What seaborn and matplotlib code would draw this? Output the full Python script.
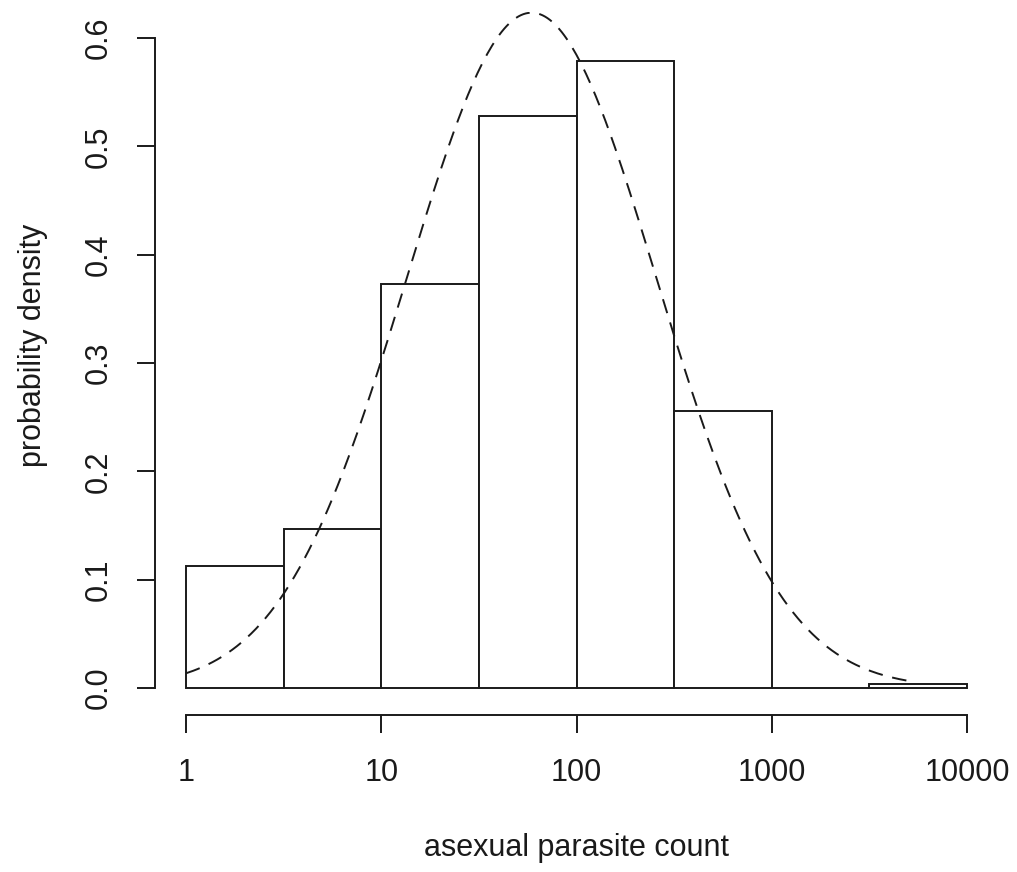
"""Histogram of asexual parasite counts (log10 bins) with fitted normal density."""

import matplotlib
matplotlib.use("Agg")
import matplotlib.pyplot as plt
import numpy as np
import seaborn as sns

# bin edges in log10(count) and density per bin
bin_edges = [0.0, 0.5, 1.0, 1.5, 2.0, 2.5, 3.0, 3.5, 4.0]
densities = [0.113, 0.147, 0.373, 0.528, 0.579, 0.256, 0.0, 0.004]

# fitted normal on log10 scale
fit_mean = 1.77
fit_sd = 0.64
curve_from, curve_to = 0.0, 3.69

x_ticks = [0, 1, 2, 3, 4]
x_tick_labels = ["1", "10", "100", "1000", "10000"]
y_ticks = [0.0, 0.1, 0.2, 0.3, 0.4, 0.5, 0.6]
y_tick_labels = ["0.0", "0.1", "0.2", "0.3", "0.4", "0.5", "0.6"]


def main() -> None:
    sns.set_style("white")
    plt.rcParams["font.family"] = ["Liberation Sans", "DejaVu Sans"]

    fig = plt.figure(figsize=(10.17, 8.72), dpi=100)
    ax = fig.add_axes([155 / 1017, 1 - 715 / 872, (998 - 155) / 1017, (715 - 12) / 872])

    mids = [(a + b) / 2 for a, b in zip(bin_edges[:-1], bin_edges[1:])]
    sns.histplot(x=mids, weights=densities, bins=bin_edges, stat="count",
                 color="white", edgecolor="#1a1a1a", linewidth=1.4, alpha=1,
                 ax=ax)

    xs = np.linspace(curve_from, curve_to, 300)
    ys = np.exp(-0.5 * ((xs - fit_mean) / fit_sd) ** 2) / (fit_sd * np.sqrt(2 * np.pi))
    sns.lineplot(x=xs, y=ys, color="#1a1a1a", linewidth=1.4,
                 linestyle=(0, (7.5, 5)), ax=ax)

    ax.set_xlim(-0.159, 4.159)
    ax.set_ylim(-0.0249, 0.624)

    for side in ["top", "right"]:
        ax.spines[side].set_visible(False)
    ax.spines["left"].set_bounds(0, 0.6)
    ax.spines["bottom"].set_bounds(0, 4)
    for side in ["left", "bottom"]:
        ax.spines[side].set_linewidth(1.4)
        ax.spines[side].set_color("#1a1a1a")

    ax.set_xticks(x_ticks)
    ax.set_xticklabels(x_tick_labels)
    ax.set_yticks(y_ticks)
    ax.set_yticklabels(y_tick_labels, rotation=90, va="center")
    ax.tick_params(axis="both", direction="out", length=13, width=1.4,
                   color="#1a1a1a", labelsize=22, labelcolor="#1a1a1a",
                   left=True, bottom=True)
    ax.tick_params(axis="x", pad=18)
    ax.tick_params(axis="y", pad=17)

    ax.set_xlabel("asexual parasite count", fontsize=22, color="#1a1a1a")
    ax.set_ylabel("probability density", fontsize=22, color="#1a1a1a")
    ax.xaxis.set_label_coords(0.5, (715 - 848) / 703)
    ax.xaxis.label.set_va("center")
    ax.yaxis.set_label_coords((33 - 155) / 843, (715 - 345) / 703)
    ax.yaxis.label.set_va("center")

    fig.savefig("out.png", dpi=100)
    plt.close(fig)


if __name__ == "__main__":
    main()
